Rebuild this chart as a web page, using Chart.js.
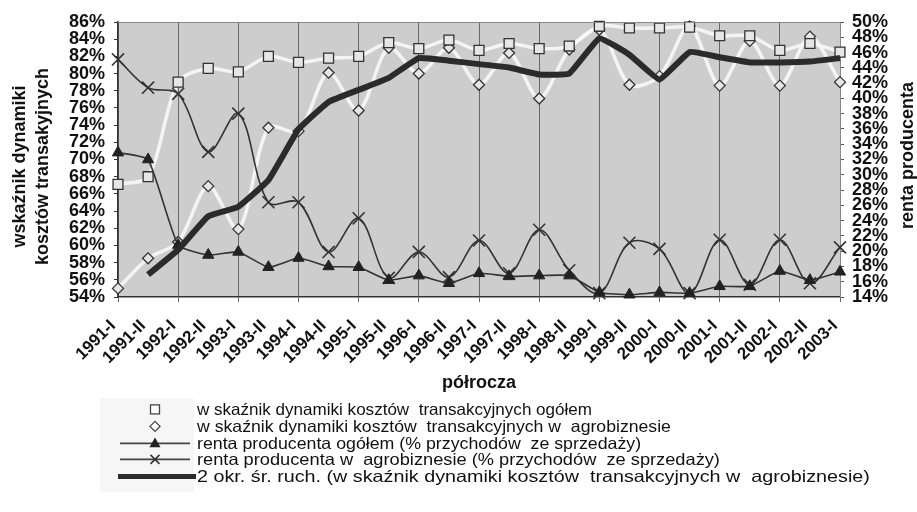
<!DOCTYPE html>
<html><head><meta charset="utf-8">
<script src="https://cdn.jsdelivr.net/npm/chart.js@4.4.1/dist/chart.umd.min.js"></script>
<style>
html,body{margin:0;padding:0;background:#fff;}
#wrap{position:relative;width:917px;height:512px;overflow:hidden;}
#legend{position:absolute;left:100px;top:401px;font-family:"Liberation Sans",Arial,sans-serif;font-size:16.5px;color:#111;}
#legendBg{position:absolute;left:100px;top:398px;width:94px;height:94px;background:#f6f6f6;}
.row{height:16.75px;line-height:16.75px;display:flex;align-items:center;white-space:pre;}
.row svg{width:97px;height:16.75px;flex:none;}
.row span{display:inline-block;transform-origin:0 50%;}
</style></head><body>
<div id="wrap"><canvas id="c" width="917" height="512"></canvas><div id="legendBg"></div><div id="legend"></div></div>
<script>
// ---- data ----
const categories = ['1991-I','1991-II','1992-I','1992-II','1993-I','1993-II','1994-I','1994-II','1995-I','1995-II','1996-I','1996-II','1997-I','1997-II','1998-I','1998-II','1999-I','1999-II','2000-I','2000-II','2001-I','2001-II','2002-I','2002-II','2003-I'];
const seriesNames = [
  'w skaźnik dynamiki kosztów  transakcyjnych ogółem',
  'w skaźnik dynamiki kosztów  transakcyjnych w  agrobiznesie',
  'renta producenta ogółem (% przychodów  ze sprzedaży)',
  'renta producenta w  agrobiznesie (% przychodów  ze sprzedaży)',
  '2 okr. śr. ruch. (w skaźnik dynamiki kosztów  transakcyjnych w  agrobiznesie)'
];
const kosztyOgolem = [67.1,68.0,79.0,80.6,80.2,82.0,81.3,81.8,82.0,83.6,82.9,83.9,82.7,83.5,82.9,83.2,85.5,85.3,85.3,85.4,84.4,84.4,82.7,83.5,82.5];
const kosztyAgro   = [55.0,58.5,60.4,66.9,61.9,73.7,73.3,80.1,75.7,83.0,80.0,83.0,78.7,82.4,77.1,82.8,85.1,78.7,79.7,85.5,78.6,83.8,78.6,84.3,79.0];
const sredniaRuchoma = [null,56.6,59.5,63.4,64.5,67.6,73.5,76.7,78.1,79.5,81.8,81.5,81.1,80.7,79.9,80.0,84.1,82.2,79.3,82.5,81.9,81.3,81.3,81.4,81.8];
const rentaOgolem  = [32.9,32.0,20.8,19.5,19.9,17.9,19.1,18.0,17.9,16.2,16.8,15.8,17.1,16.7,16.8,16.8,14.6,14.3,14.6,14.5,15.4,15.4,17.4,16.2,17.3];
const rentaAgro    = [45.1,41.4,40.6,33.0,38.0,26.4,26.4,19.9,24.3,16.5,19.9,16.6,21.4,17.1,22.8,17.5,14.5,21.1,20.3,14.5,21.5,15.6,21.5,15.8,20.5];
const leftAxisTitle = ['wskaźnik dynamiki','kosztów transakyjnych'];
const rightAxisTitle = 'renta producenta';
const xAxisTitle = 'półrocza';
const leftMin = 54, leftMax = 86, rightMin = 14, rightMax = 50, tickStep = 2;

// ---- chart ----
const FONT = '"Liberation Sans", Arial, sans-serif';
Chart.defaults.font.family = FONT;
Chart.defaults.color = '#111';

const plotDeco = {
  id: 'plotDeco',
  beforeDraw(chart) {
    const {ctx, chartArea: a} = chart;
    ctx.save();
    ctx.fillStyle = '#cdcdcd';
    ctx.fillRect(a.left, a.top, a.right - a.left, a.bottom - a.top);
    ctx.restore();
  },
  afterDraw(chart) {
    const {ctx, chartArea: a} = chart;
    ctx.save();
    ctx.strokeStyle = '#888';
    ctx.lineWidth = 1;
    ctx.beginPath();
    ctx.moveTo(a.left, a.top + 0.5); ctx.lineTo(a.right, a.top + 0.5);
    ctx.stroke();
    ctx.font = 'bold 18px ' + FONT;
    ctx.fillStyle = '#111';
    ctx.textAlign = 'center';
    ctx.textBaseline = 'middle';
    // right axis title (reads bottom to top)
    ctx.save();
    ctx.translate(908, (a.top + a.bottom) / 2 - 4);
    ctx.rotate(-Math.PI / 2);
    ctx.fillText(rightAxisTitle, 0, 0);
    ctx.restore();
    // left axis title, two lines
    ctx.save();
    ctx.translate(20, (a.top + a.bottom) / 2 + 7);
    ctx.rotate(-Math.PI / 2);
    leftAxisTitle.forEach((t, i) => ctx.fillText(t, 0, i * 23));
    ctx.restore();
    ctx.restore();
  }
};

const pct = v => v + '%';
const tickFont = {size: 18, weight: 'bold'};

new Chart(document.getElementById('c'), {
  type: 'line',
  data: {
    labels: categories,
    datasets: [
      {label: seriesNames[0], data: kosztyOgolem, yAxisID: 'y', order: 10,
       borderColor: 'rgba(248,248,248,0.9)', borderWidth: 3.5, tension: 0.3,
       pointStyle: 'rect', pointRadius: 7, pointBorderColor: '#333', pointBackgroundColor: '#e6e6e6', pointBorderWidth: 1.3, clip: false},
      {label: seriesNames[1], data: kosztyAgro, yAxisID: 'y', order: 11,
       borderColor: 'rgba(248,248,248,0.9)', borderWidth: 3.5, tension: 0.3,
       pointStyle: 'rectRot', pointRadius: 5.5, pointBorderColor: '#333', pointBackgroundColor: '#e6e6e6', pointBorderWidth: 1.3, clip: false},
      {label: seriesNames[2], data: rentaOgolem, yAxisID: 'y1', order: 2,
       borderColor: '#333', borderWidth: 1.6, tension: 0.15,
       pointStyle: 'triangle', pointRadius: 6.5, pointBorderColor: '#222', pointBackgroundColor: '#222', pointBorderWidth: 1, clip: false},
      {label: seriesNames[3], data: rentaAgro, yAxisID: 'y1', order: 3,
       borderColor: '#333', borderWidth: 1.6, tension: 0.35,
       pointStyle: 'crossRot', pointRadius: 8.5, pointBorderColor: '#333', pointBorderWidth: 1.6, clip: false},
      {label: seriesNames[4], data: sredniaRuchoma, yAxisID: 'y', order: 1,
       borderColor: '#2b2b2b', borderWidth: 6, tension: 0.1, pointRadius: 0, spanGaps: false}
    ]
  },
  options: {
    responsive: false,
    animation: false,
    events: [],
    layout: {padding: {top: 22, bottom: 114, left: 0, right: 0}},
    plugins: {legend: {display: false}, tooltip: {enabled: false}, title: {display: false}},
    scales: {
      x: {
        offset: false,
        grid: {color: c => (c.index % 2 === 0 ? '#666' : 'rgba(0,0,0,0)'), lineWidth: 1, tickLength: 5, drawOnChartArea: true},
        border: {color: '#333', width: 1.5},
        ticks: {autoSkip: false, maxRotation: 45, minRotation: 45, font: {size: 17, weight: 'bold'}, padding: 14, labelOffset: -5, color: '#111'},
        title: {display: true, text: xAxisTitle, font: {size: 18, weight: 'bold'}, padding: {top: 0, bottom: 4}, color: '#111'},
        afterFit(s) { s.height = 101; }
      },
      y: {
        position: 'left', min: leftMin, max: leftMax,
        grid: {drawOnChartArea: false, color: '#333', tickLength: 4},
        border: {color: '#333', width: 1.5},
        ticks: {stepSize: tickStep, autoSkip: false, callback: pct, font: tickFont, padding: 9, color: '#111'},
        afterFit(s) { s.width = 118; }
      },
      y1: {
        position: 'right', min: rightMin, max: rightMax,
        grid: {drawOnChartArea: false, color: '#555', tickLength: 4},
        border: {color: '#888', width: 1},
        ticks: {stepSize: tickStep, autoSkip: false, callback: pct, font: tickFont, padding: 8, color: '#111'},
        afterFit(s) { s.width = 77; }
      }
    }
  },
  plugins: [plotDeco]
});

// ---- legend (HTML) ----
const legendSymbols = [
  '<rect x="50.5" y="3.9" width="9" height="9" fill="#fff" stroke="#444" stroke-width="1.3"/>',
  '<path d="M55 3.4 L60 8.4 L55 13.4 L50 8.4 Z" fill="#fff" stroke="#444" stroke-width="1.3"/>',
  '<line x1="20" y1="8.4" x2="90" y2="8.4" stroke="#444" stroke-width="1.6"/><path d="M55 2.6 L60.5 12.2 L49.5 12.2 Z" fill="#222"/>',
  '<line x1="20" y1="8.4" x2="90" y2="8.4" stroke="#444" stroke-width="1.6"/><path d="M50.5 3.9 L59.5 12.9 M59.5 3.9 L50.5 12.9" stroke="#333" stroke-width="1.6"/>',
  '<line x1="18" y1="8.4" x2="96" y2="8.4" stroke="#2b2b2b" stroke-width="5"/>'
];
const legendTextWidths = [395, 474, 444, 523, 673];
const leg = document.getElementById('legend');
seriesNames.forEach((name, i) => {
  const row = document.createElement('div');
  row.className = 'row';
  row.innerHTML = '<svg viewBox="0 0 97 16.75">' + legendSymbols[i] + '</svg>';
  const span = document.createElement('span');
  span.textContent = name;
  row.appendChild(span);
  leg.appendChild(row);
  const w = span.getBoundingClientRect().width;
  if (w > 0) span.style.transform = 'scaleX(' + (legendTextWidths[i] / w).toFixed(3) + ')';
});
</script>
</body></html>
